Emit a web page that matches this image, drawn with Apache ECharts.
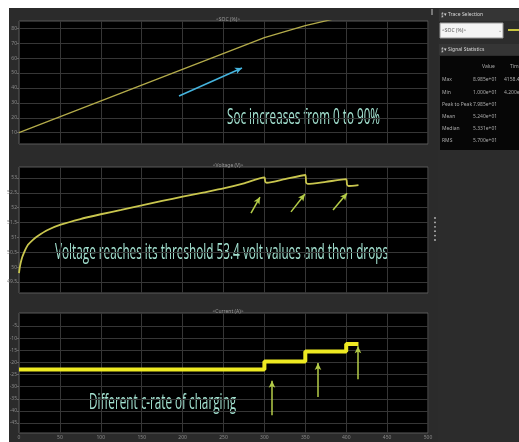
<!DOCTYPE html>
<html>
<head>
<meta charset="utf-8">
<script src="https://cdn.jsdelivr.net/npm/echarts@6/dist/echarts.min.js"></script>
<style>
  html, body { margin: 0; padding: 0; background: #fff; }
  #chart { width: 519px; height: 442px; }
</style>
</head>
<body>
<div id="chart"></div>
<script>
// time axis (s)
const xTicks = [0, 50, 100, 150, 200, 250, 300, 350, 400, 450, 500];

// SOC (%)
const socTime = [0, 300, 350, 400, 415];
const socVal = [10, 73.7, 81.8, 88.2, 89.85];
const socTicks = [10, 20, 30, 40, 50, 60, 70, 80];

// Voltage (V)
const voltTime = [0, 1, 3, 6, 11, 17, 23, 35, 50, 75, 100, 125, 150, 175, 200, 225, 250, 275, 300,
  301, 303, 325, 350, 351, 353, 375, 400, 401, 403, 415];
const voltVal = [49.8, 50.0, 50.25, 50.48, 50.75, 50.92, 51.05, 51.25, 51.42, 51.62, 51.78, 51.93, 52.08,
  52.23, 52.37, 52.51, 52.65, 52.82, 53.02, 52.88, 52.84, 52.96, 53.1, 52.85, 52.8, 52.87, 52.96,
  52.78, 52.73, 52.76];
const voltTicks = [49.5, 50, 50.5, 51, 51.5, 52, 52.5, 53];

// Current (A)
const currTime = [0, 300, 300, 350, 350, 400, 400, 415];
const currVal = [-22.9, -22.9, -19.6, -19.6, -15.5, -15.5, -12.4, -12.4];
const currTicks = [-45, -40, -35, -30, -25, -20, -15, -10, -5];

// signal statistics panel
const statNames = ['Max', 'Min', 'Peak to Peak', 'Mean', 'Median', 'RMS'];
const statValues = ['8.985e+01', '1.000e+01', '7.985e+01', '5.240e+01', '5.331e+01', '5.700e+01'];
const statTimes = ['4158.4', '4.200e+', '', '', '', ''];

// annotations
const socArrow = [[195.6, 34.6], [272.6, 53.4]];
const voltArrows = [
  [[283.6, 51.82], [294.6, 52.36]],
  [[332.5, 51.86], [349.6, 52.46]],
  [[383.9, 51.92], [401, 52.49]]
];
const currArrows = [
  [[309.3, -41.8], [309.3, -27.6]],
  [[365.5, -34.3], [365.5, -20.2]],
  [[414.4, -26.9], [414.4, -13.3]]
];
const notes = [
  { text: 'Soc increases from 0 to 90%', x: 227, y: 118, width: 153 },
  { text: 'Voltage reaches its threshold 53.4 volt values and then drops', x: 55, y: 253, width: 333 },
  { text: 'Different c-rate of charging', x: 89, y: 403, width: 147 }
];

const zip = (a, b) => a.map((v, i) => [v, b[i]]);

const chart = echarts.init(document.getElementById('chart'));

const gridLine = { show: true, lineStyle: { color: '#363636', width: 1 } };
const labelStyle = { color: '#8a8a8a', fontSize: 5, fontFamily: 'Noto Sans' };
const noteFont = 'Open Sans';
const noteSize = 22;

// squeeze the overlay notes to the narrow face of the original
const measure = document.createElement('canvas').getContext('2d');
measure.font = noteSize + 'px ' + noteFont;

function xAxis(gridIndex, showLabels) {
  return {
    type: 'value', gridIndex, min: 0, max: 500, interval: 50,
    axisLine: { show: false },
    axisTick: { show: false },
    axisLabel: Object.assign({ show: showLabels, margin: 2 }, labelStyle),
    splitLine: gridLine
  };
}

function yAxis(gridIndex, min, max, ticks) {
  return {
    type: 'value', gridIndex, min, max,
    axisLine: { show: false },
    axisTick: { show: true, customValues: ticks, length: 2, lineStyle: { color: '#666' } },
    axisLabel: Object.assign({ customValues: ticks, margin: 2 }, labelStyle),
    splitLine: gridLine
  };
}

function arrowLines(pairs, color) {
  return {
    silent: true,
    symbol: ['none', 'arrow'],
    symbolSize: [5, 7],
    label: { show: false },
    lineStyle: { color, width: 1.5, type: 'solid' },
    data: pairs.map(p => [{ coord: p[0] }, { coord: p[1] }])
  };
}

const grids = [
  { left: 19, right: 91, top: 21, height: 123 },
  { left: 19, right: 91, top: 167, height: 126 },
  { left: 19, right: 91, top: 313, height: 120 }
].map(g => Object.assign({ show: true, backgroundColor: '#000', borderColor: '#5a5a5a', borderWidth: 1 }, g));

// right hand panel, drawn as plain shapes and text
const small = { fontSize: 5, verticalAlign: 'middle', fontFamily: 'Noto Sans' };
const txt = (x, y, text, fill) => ({ type: 'text', x, y, style: Object.assign({ text, fill: fill || '#aaa' }, small) });
const panel = [];
panel.push({ type: 'rect', shape: { x: 438, y: 8, width: 81, height: 434 }, style: { fill: '#2c2c2c' } });
panel.push({ type: 'rect', shape: { x: 439, y: 9, width: 80, height: 12 }, style: { fill: '#353535' } });
panel.push(txt(441, 15, '⁑▾ Trace Selection', '#d8d8d8'));
panel.push({ type: 'rect', shape: { x: 440, y: 23, width: 63, height: 15 }, style: { fill: '#f4f4f4', stroke: '#999' } });
panel.push(txt(442, 31, '<SOC (%)>', '#555'));
panel.push(txt(498, 31, '⌄', '#888'));
panel.push({ type: 'line', shape: { x1: 508, y1: 30, x2: 519, y2: 30 }, style: { stroke: '#c8c440', lineWidth: 2 } });
panel.push({ type: 'rect', shape: { x: 439, y: 44, width: 80, height: 11 }, style: { fill: '#353535' } });
panel.push(txt(441, 50, '⁑▾ Signal Statistics', '#d8d8d8'));
panel.push({ type: 'rect', shape: { x: 440, y: 56, width: 79, height: 94 }, style: { fill: '#060606' } });
panel.push(txt(482, 67, 'Value'));
panel.push(txt(510, 67, 'Time'));
statNames.forEach((name, i) => {
  const y = 80 + i * 12.2;
  panel.push(txt(442, y, name));
  panel.push(txt(473, y, statValues[i]));
  if (statTimes[i]) panel.push(txt(504, y, statTimes[i]));
});
// splitter grip
for (let i = 0; i < 6; i++) {
  panel.push({ type: 'circle', shape: { cx: 435, cy: 218 + i * 4.4, r: 0.9 }, style: { fill: '#bbb' } });
}
panel.push({ type: 'rect', shape: { x: 431, y: 9, width: 2, height: 6 }, style: { fill: '#777' } });

const noteGraphics = notes.map(n => ({
  type: 'text', x: n.x, y: n.y,
  scaleX: n.width / measure.measureText(n.text).width,
  style: { text: n.text, fill: '#a2e0cf', fontSize: noteSize, fontFamily: noteFont, verticalAlign: 'middle' }
}));

const option = {
  backgroundColor: '#2b2b2b',
  animation: false,
  title: [
    { text: '<SOC (%)>', left: 223, top: 12 },
    { text: '<Voltage (V)>', left: 223, top: 158 },
    { text: '<Current (A)>', left: 223, top: 304 }
  ].map(t => Object.assign({ textAlign: 'center', textStyle: { color: '#9a9a9a', fontSize: 5, fontWeight: 'normal', fontFamily: 'Noto Sans' } }, t)),
  grid: grids,
  xAxis: [xAxis(0, false), xAxis(1, false), xAxis(2, true)],
  yAxis: [
    yAxis(0, 2.4, 84.9, socTicks),
    yAxis(1, 49.13, 53.37, voltTicks),
    yAxis(2, -49.1, 0.36, currTicks)
  ],
  series: [
    {
      type: 'line', xAxisIndex: 0, yAxisIndex: 0, data: zip(socTime, socVal),
      showSymbol: false, clip: true, lineStyle: { color: '#b3ab4a', width: 1.3 },
      markLine: arrowLines([socArrow], '#45b4de')
    },
    {
      type: 'line', xAxisIndex: 1, yAxisIndex: 1, data: zip(voltTime, voltVal),
      showSymbol: false, smooth: 0.2, clip: true, lineStyle: { color: '#c9c64e', width: 1.8 },
      markLine: arrowLines(voltArrows, '#b4cc48')
    },
    {
      type: 'line', xAxisIndex: 2, yAxisIndex: 2, data: zip(currTime, currVal),
      showSymbol: false, clip: true, lineStyle: { color: '#eeea22', width: 4 },
      markLine: arrowLines(currArrows, '#b4cc48')
    }
  ],
  graphic: [
    { type: 'rect', shape: { x: 0, y: 0, width: 519, height: 8 }, style: { fill: '#fff' } },
    { type: 'rect', shape: { x: 0, y: 0, width: 9, height: 442 }, style: { fill: '#fff' } }
  ].concat(noteGraphics, panel)
};

chart.setOption(option);
</script>
</body>
</html>
